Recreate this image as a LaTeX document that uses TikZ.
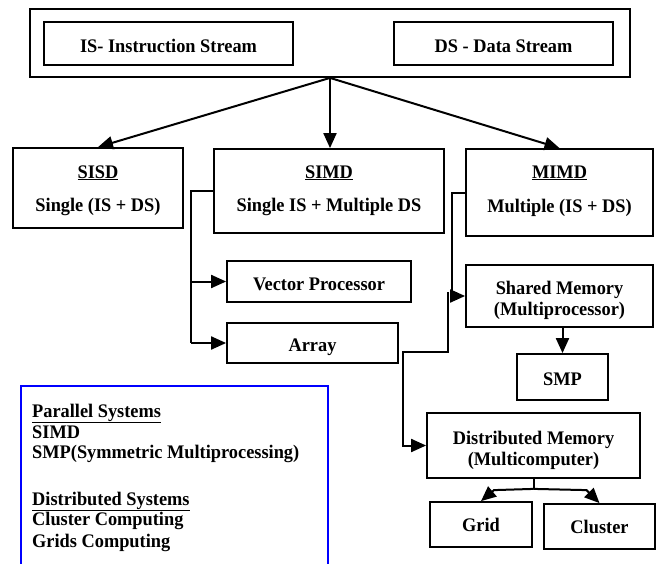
\documentclass[tikz,border=0pt]{standalone}
\usepackage{fontspec}
\setmainfont{Liberation Serif}[FakeStretch=0.955]
\usetikzlibrary{arrows.meta,calc}
\tikzset{
  box/.style={draw, line width=1.8pt, inner sep=0pt},
  txt/.style={anchor=base, inner sep=0pt},
  conn/.style={line width=2pt},
  arr/.style={line width=2pt, -{Triangle[length=15pt,width=13pt]}},
  every node/.style={font=\bfseries\fontsize{19.2}{22}\selectfont},
}
\begin{document}
\begin{tikzpicture}[x=1pt,y=-1pt]
\useasboundingbox (0,0) rectangle (656,563);
% top
\node[box, minimum width=600pt, minimum height=68pt] (outer) at (330,43) {};
\node[box, minimum width=249pt, minimum height=43pt] (isbox) at (168.5,43.5) {};
\node[txt] (istxt) at (168.5,52) {IS- Instruction Stream};
\node[box, minimum width=219pt, minimum height=43pt] (dsbox) at (503.5,43.5) {};
\node[txt] (dstxt) at (503.5,52) {DS - Data Stream};
% level 2
\node[box, minimum width=170pt, minimum height=80pt] (sisd) at (98,188) {};
\node[txt] (sisdt) at (98,178) {\underline{SISD}};
\node[txt] (sisdd) at (98,211) {Single (IS + DS)};
\node[box, minimum width=230pt, minimum height=84pt] (simd) at (329,191) {};
\node[txt] (simdt) at (329,178) {\underline{SIMD}};
\node[txt] (simdd) at (329,211) {Single IS + Multiple DS};
\node[box, minimum width=187pt, minimum height=87pt] (mimd) at (559.5,192.5) {};
\node[txt] (mimdt) at (559.5,178) {\underline{MIMD}};
\node[txt] (mimdd) at (559.5,212) {Multiple (IS + DS)};
% SIMD children
\node[box, minimum width=184pt, minimum height=41pt] (vector) at (319,281.5) {};
\node[txt] (vectort) at (319,290) {Vector Processor};
\node[box, minimum width=171pt, minimum height=40pt] (array) at (312.5,343) {};
\node[txt] (arrayt) at (312.5,351) {Array};
% MIMD children
\node[box, minimum width=187pt, minimum height=62pt] (shared) at (559.5,296) {};
\node[txt] (sharedt1) at (559.5,294) {Shared Memory};
\node[txt] (sharedt2) at (559.5,315) {(Multiprocessor)};
\node[box, minimum width=91pt, minimum height=46pt] (smp) at (562.5,377) {};
\node[txt] (smpt) at (562.5,385) {SMP};
\node[box, minimum width=213pt, minimum height=65pt] (dist) at (533.5,445.5) {};
\node[txt] (distt1) at (533.5,444) {Distributed Memory};
\node[txt] (distt2) at (533.5,465) {(Multicomputer)};
\node[box, minimum width=102pt, minimum height=45pt] (grid) at (481,524.5) {};
\node[txt] (gridt) at (481,531) {Grid};
\node[box, minimum width=111pt, minimum height=45pt] (cluster) at (599.5,526.5) {};
\node[txt] (clustert) at (599.5,533) {Cluster};
% connectors
\draw[arr] (outer.south) -- (sisd.north);
\draw[arr] (outer.south) -- (outer.south |- simd.north);
\draw[arr] (outer.south) -- (mimd.north);
\coordinate (sb) at ($(simd.west)+(-22,0)$);
\draw[conn] (simd.west) -- (sb) -- (sb |- array.west);
\draw[arr] (sb |- vector.west) -- (vector.west);
\draw[arr] (sb |- array.west) -- (array.west);
\coordinate (mb) at ($(mimd.west)+(-13,0)$);
\draw[arr] (mimd.west) -- (mb) |- (shared.west);
\draw[arr] (shared.south -| smp.north) -- (smp.north);
\coordinate (b2) at (448,292);
\coordinate (b3) at (448,352);
\coordinate (b4) at (403,352);
\draw[arr] (b2) -- (b3) -- (b4) |- (dist.west);
\coordinate (j) at ($(dist.south)+(0,10)$);
\draw[conn] (dist.south) -- (j);
\draw[arr] (j) -- ($(grid.north)+(13,-11)$) -- (grid.north);
\draw[arr] (j) -- ($(cluster.north)+(-13,-13)$) -- (cluster.north);
% blue box
\draw[blue, line width=1.5pt] (21,570) -- (21,386) -- (328,386) -- (328,570);
\node[txt, anchor=base west] (p1) at (32,417) {\underline{Parallel Systems}};
\node[txt, anchor=base west] (p2) at (32,438) {SIMD};
\node[txt, anchor=base west] (p3) at (32,458) {SMP(Symmetric Multiprocessing)};
\node[txt, anchor=base west] (p4) at (32,505) {\underline{Distributed Systems}};
\node[txt, anchor=base west] (p5) at (32,525) {Cluster Computing};
\node[txt, anchor=base west] (p6) at (32,547) {Grids Computing};
\end{tikzpicture}
\end{document}
